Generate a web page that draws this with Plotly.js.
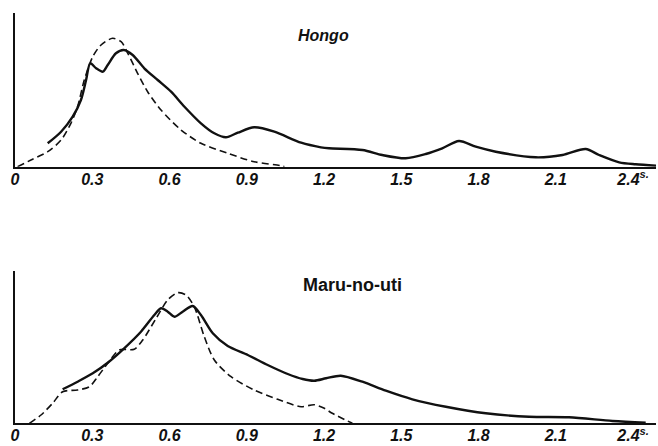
<!DOCTYPE html>
<html>
<head>
<meta charset="utf-8">
<script src="https://cdn.plot.ly/plotly-3.0.1.min.js"></script>
<style>
  html, body { margin: 0; padding: 0; background: #fff; }
  #chart { width: 658px; height: 446px; }
</style>
</head>
<body>
<div id="chart"></div>
<script>
// Period (s) and relative frequency of ground-motion spectra at two sites.
// Solid: observed; dashed: theoretical curve.

// Hongo
const hongoObsT = [0.127, 0.179, 0.224, 0.256, 0.276, 0.292, 0.315, 0.341, 0.360, 0.392, 0.422, 0.457, 0.502, 0.554, 0.606, 0.658, 0.722, 0.774, 0.819, 0.865, 0.929, 1.007, 1.111, 1.188, 1.219, 1.349, 1.426, 1.517, 1.595, 1.659, 1.724, 1.789, 1.867, 2.022, 2.126, 2.216, 2.268, 2.346, 2.410, 2.489];
const hongoObsA = [23.4, 35.0, 50.0, 66.7, 86.7, 103.4, 98.4, 95.0, 101.7, 113.4, 116.7, 111.7, 98.4, 86.7, 75.0, 60.0, 43.4, 33.4, 29.4, 34.0, 39.4, 35.0, 24.0, 19.4, 18.4, 16.7, 11.7, 8.4, 12.7, 18.4, 25.7, 20.0, 15.0, 9.4, 11.7, 17.7, 11.7, 4.4, 2.4, 1.0];
const hongoThT = [0.010, 0.062, 0.127, 0.179, 0.217, 0.243, 0.269, 0.302, 0.334, 0.379, 0.412, 0.438, 0.476, 0.515, 0.567, 0.645, 0.722, 0.826, 0.929, 1.033, 1.046];
const hongoThA = [0.0, 6.7, 15.0, 26.7, 43.4, 60.0, 86.7, 110.0, 121.7, 128.4, 125.0, 113.4, 93.4, 75.0, 56.7, 36.7, 23.4, 13.4, 5.0, 1.0, 0.0];

// Maru-no-uti
const maruObsT = [0.185, 0.243, 0.302, 0.360, 0.424, 0.489, 0.541, 0.567, 0.593, 0.619, 0.651, 0.690, 0.722, 0.768, 0.826, 0.904, 0.981, 1.059, 1.117, 1.162, 1.208, 1.265, 1.349, 1.440, 1.543, 1.673, 1.828, 1.996, 2.151, 2.320, 2.449];
const maruObsA = [34.0, 41.6, 50.0, 60.6, 75.0, 91.6, 108.3, 115.0, 111.6, 106.6, 111.6, 117.3, 108.3, 90.0, 77.3, 68.3, 58.3, 49.3, 44.3, 42.6, 45.0, 47.6, 41.6, 32.6, 24.0, 16.6, 10.0, 6.6, 6.0, 2.3, 0.6];
const maruThT = [0.056, 0.101, 0.146, 0.185, 0.243, 0.289, 0.321, 0.360, 0.405, 0.463, 0.496, 0.548, 0.593, 0.632, 0.664, 0.696, 0.735, 0.774, 0.839, 0.929, 1.020, 1.111, 1.162, 1.201, 1.232, 1.310];
const maruThA = [0.0, 8.3, 20.0, 31.6, 33.3, 36.6, 46.6, 60.0, 73.3, 74.0, 83.3, 105.0, 123.3, 130.6, 128.3, 116.6, 86.6, 63.3, 46.6, 33.3, 24.0, 16.6, 18.6, 15.0, 10.0, 0.0];

// Period axis ticks
const tickVals = [0, 0.3, 0.6, 0.9, 1.2, 1.5, 1.8, 2.1, 2.4];
const tickText = ['0', '0.3', '0.6', '0.9', '1.2', '1.5', '1.8', '2.1', '2.4<sup>s.</sup>'];

const solid = { color: '#111', width: 2.4, shape: 'spline', smoothing: 0.8 };
const dashed = { color: '#111', width: 1.6, dash: '7px,4px', shape: 'spline', smoothing: 0.8 };

const traces = [
  { x: hongoObsT, y: hongoObsA, xaxis: 'x', yaxis: 'y', mode: 'lines', line: solid },
  { x: hongoThT, y: hongoThA, xaxis: 'x', yaxis: 'y', mode: 'lines', line: dashed },
  { x: maruObsT, y: maruObsA, xaxis: 'x2', yaxis: 'y2', mode: 'lines', line: solid },
  { x: maruThT, y: maruThA, xaxis: 'x2', yaxis: 'y2', mode: 'lines', line: dashed }
];

const tickFont = { family: 'Liberation Sans, Arial, sans-serif', size: 16, color: '#111', weight: 'bold', style: 'italic' };

function xAxis(anchor) {
  return {
    anchor: anchor, domain: [0, 1], range: [0, 2.489],
    showline: true, linecolor: '#111', linewidth: 2,
    showgrid: false, zeroline: false, ticks: '', ticklen: 0,
    ticklabelstandoff: -3,
    tickvals: tickVals, ticktext: tickText, tickfont: tickFont
  };
}
function yAxis(anchor, domain, top) {
  return {
    anchor: anchor, domain: domain, range: [0, top],
    showline: true, linecolor: '#111', linewidth: 2,
    showgrid: false, zeroline: false, ticks: '', showticklabels: false
  };
}

const layout = {
  width: 658, height: 446,
  margin: { l: 15, r: 2, t: 0, b: 0 },
  paper_bgcolor: '#fff', plot_bgcolor: '#fff',
  showlegend: false,
  xaxis: xAxis('y'),
  yaxis: yAxis('x', [0.6262, 0.9709], 153.7),
  xaxis2: xAxis('y2'),
  yaxis2: yAxis('x2', [0.0509, 0.3924], 152.3),
  annotations: [
    { text: 'Hongo', xref: 'paper', yref: 'paper', x: (323 - 15) / 641, y: 1 - 35 / 446,
      xanchor: 'center', yanchor: 'middle', showarrow: false,
      font: { family: 'Liberation Sans, Arial, sans-serif', size: 16, color: '#111', weight: 'bold', style: 'italic' } },
    { text: 'Maru-no-uti', xref: 'paper', yref: 'paper', x: (353 - 15) / 641, y: 1 - 285 / 446,
      xanchor: 'center', yanchor: 'middle', showarrow: false,
      font: { family: 'Liberation Sans, Arial, sans-serif', size: 18, color: '#111', weight: 'bold' } }
  ]
};

Plotly.newPlot('chart', traces, layout, { staticPlot: true, displayModeBar: false });
</script>
</body>
</html>
